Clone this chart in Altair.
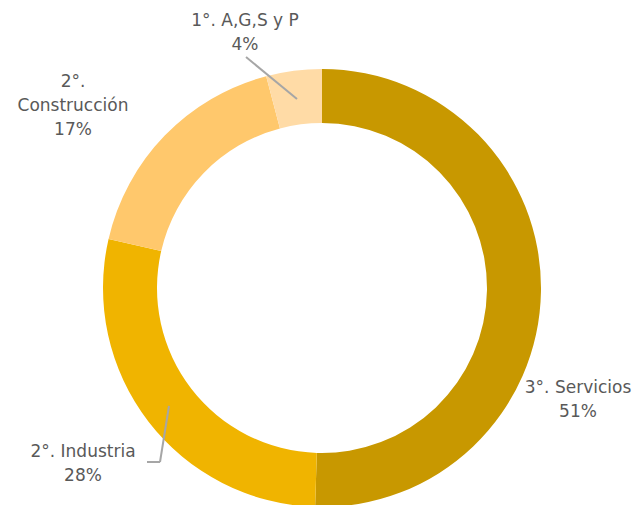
import altair as alt
import pandas as pd

categories = ["3°. Servicios", "2°. Industria", "2°. Construcción", "1°. A,G,S y P"]
shares = [50.5, 28.1, 17.3, 4.1]
colors = ["#C89800", "#F0B400", "#FFC86C", "#FFDBA6"]
label_lines = [["3°. Servicios", "51%"], ["2°. Industria", "28%"],
               ["2°.", "Construcción", "17%"], ["1°. A,G,S y P", "4%"]]

df = pd.DataFrame({"cat": categories, "val": shares, "ord": list(range(len(categories)))})

FONT = "DejaVu Sans"
TXT = "#595959"
CX, CY = 314, 280

donut = alt.Chart(df).mark_arc(radius=219, radius2=165, strokeWidth=0).encode(
    theta=alt.Theta("val:Q", stack=True),
    order=alt.Order("ord:Q"),
    color=alt.Color("cat:N", scale=alt.Scale(domain=categories, range=colors), legend=None),
    x=alt.value(CX), y=alt.value(CY),
)

label_pos = [(570, 380), (75, 444), (65, 74), (237, 13)]
layers = [donut]
for lines, (lx, ly) in zip(label_lines, label_pos):
    layers.append(
        alt.Chart(pd.DataFrame({"t": [lines]})).mark_text(
            font=FONT, fontSize=17, color=TXT, align="center", baseline="middle", lineHeight=24
        ).encode(text="t", x=alt.value(lx), y=alt.value(ly))
    )

lead = "#A6A6A6"
rules_df = pd.DataFrame({
    "x": [238, 161, 152], "y": [49, 398, 454],
    "x2": [289, 152, 139], "y2": [91, 454, 454],
})
for _, r in rules_df.iterrows():
    layers.append(
        alt.Chart(pd.DataFrame({"a": [0]})).mark_rule(color=lead, strokeWidth=2).encode(
            x=alt.value(float(r.x)), y=alt.value(float(r.y)),
            x2=alt.value(float(r.x2)), y2=alt.value(float(r.y2)),
        )
    )

chart = alt.layer(*layers).properties(
    width=624, height=497, autosize=alt.AutoSizeParams(type="none"), padding=0
).configure_view(stroke=None)

chart.save("out.html", embed_options={"renderer": "svg", "actions": False})
